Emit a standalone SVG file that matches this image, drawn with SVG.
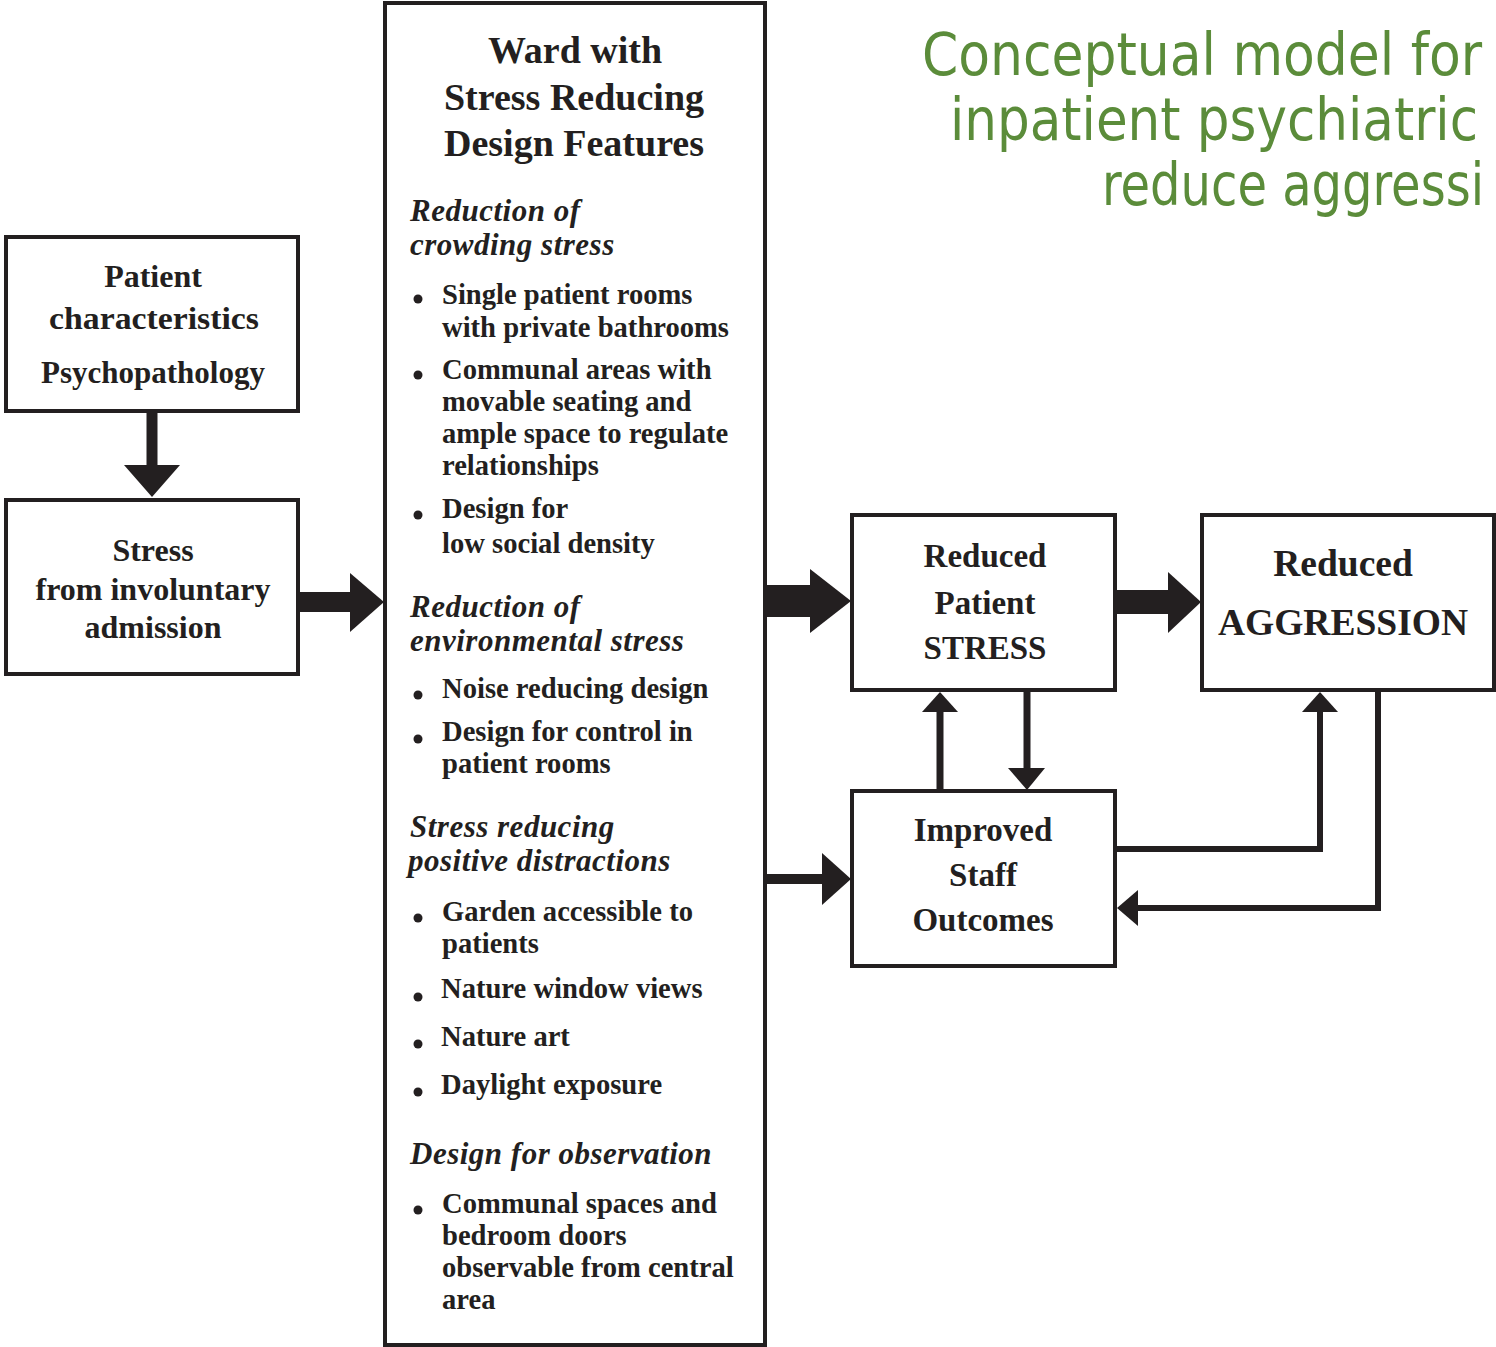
<svg xmlns="http://www.w3.org/2000/svg" width="1496" height="1347" viewBox="0 0 1496 1347">
<style>
.box{fill:#fff;stroke:#231f20;stroke-width:4}
.t{font-family:"Liberation Serif","Times New Roman",serif;font-weight:bold;fill:#231f20}
.c{text-anchor:middle}
.h{font-style:italic;font-size:31px;letter-spacing:0.5px}
.b{font-size:28.6px}
.title{font-family:"DejaVu Sans Condensed","DejaVu Sans",sans-serif;font-size:58px;fill:#5b8c3a}
.ln{stroke:#231f20;fill:none}
.ah{fill:#231f20}
</style>
<rect width="1496" height="1347" fill="#fff"/>
<g id="title">
<text class="title" x="922" y="75" textLength="560" lengthAdjust="spacingAndGlyphs">Conceptual model for</text>
<text class="title" x="950" y="140" textLength="528" lengthAdjust="spacingAndGlyphs">inpatient psychiatric</text>
<text class="title" x="1102" y="205" textLength="382" lengthAdjust="spacingAndGlyphs">reduce aggressi</text>
</g>
<g id="connectors">
<path class="ln" d="M152 411V467" stroke-width="11"/>
<polygon class="ah" points="124,465 180,465 152,497"/>
<path class="ln" d="M298 602H352" stroke-width="20"/>
<polygon class="ah" points="350,573 350,632 384,602"/>
<path class="ln" d="M765 601H812" stroke-width="32"/>
<polygon class="ah" points="810,569 810,633 851,601"/>
<path class="ln" d="M1115 602H1170" stroke-width="24"/>
<polygon class="ah" points="1168,572 1168,633 1201,602"/>
<path class="ln" d="M765 879H824" stroke-width="10"/>
<polygon class="ah" points="822,853 822,905 851,879"/>
<path class="ln" d="M940 791V710" stroke-width="7"/>
<polygon class="ah" points="922,712 958,712 940,692"/>
<path class="ln" d="M1027 690V770" stroke-width="7"/>
<polygon class="ah" points="1008,768 1045,768 1027,790"/>
<path class="ln" d="M1115 849H1320V710" stroke-width="6"/>
<polygon class="ah" points="1302,712 1338,712 1320,692"/>
<path class="ln" d="M1378 690V908H1136" stroke-width="6"/>
<polygon class="ah" points="1138,890 1138,926 1117,908"/>
</g>
<g id="patient">
<rect class="box" x="6" y="237" width="292" height="174"/>
<text class="t c" x="153" y="287" font-size="32">Patient</text>
<text class="t c" x="154" y="329" font-size="32" textLength="210" lengthAdjust="spacingAndGlyphs">characteristics</text>
<text class="t c" x="153" y="383" font-size="31">Psychopathology</text>
</g>
<g id="stress">
<rect class="box" x="6" y="500" width="292" height="174"/>
<text class="t c" x="153" y="561" font-size="32">Stress</text>
<text class="t c" x="153" y="600" font-size="32">from involuntary</text>
<text class="t c" x="153" y="638" font-size="32">admission</text>
</g>
<g id="ward">
<rect class="box" x="385" y="3" width="380" height="1342"/>
<text class="t c" x="575" y="63" font-size="38">Ward with</text>
<text class="t c" x="574" y="110" font-size="38">Stress Reducing</text>
<text class="t c" x="574" y="156" font-size="38">Design Features</text>
<text class="t h" x="410" y="221">Reduction of</text>
<text class="t h" x="410" y="255">crowding stress</text>
<g class="ah">
<circle cx="418" cy="299" r="4.5"/><circle cx="418" cy="375" r="4.5"/><circle cx="418" cy="515" r="4.5"/>
<circle cx="418" cy="695" r="4.5"/><circle cx="418" cy="739" r="4.5"/><circle cx="418" cy="918" r="4.5"/>
<circle cx="418" cy="997" r="4.5"/><circle cx="418" cy="1044" r="4.5"/><circle cx="418" cy="1092" r="4.5"/>
<circle cx="418" cy="1210" r="4.5"/>
</g>
<text class="t b" x="442" y="304">Single patient rooms</text>
<text class="t b" x="442" y="337">with private bathrooms</text>
<text class="t b" x="442" y="379">Communal areas with</text>
<text class="t b" x="442" y="411">movable seating and</text>
<text class="t b" x="442" y="443">ample space to regulate</text>
<text class="t b" x="442" y="475">relationships</text>
<text class="t b" x="442" y="518">Design for</text>
<text class="t b" x="442" y="553">low social density</text>
<text class="t h" x="410" y="617">Reduction of</text>
<text class="t h" x="410" y="651">environmental stress</text>
<text class="t b" x="442" y="698">Noise reducing design</text>
<text class="t b" x="442" y="741">Design for control in</text>
<text class="t b" x="442" y="773">patient rooms</text>
<text class="t h" x="410" y="837">Stress reducing</text>
<text class="t h" x="408" y="871">positive distractions</text>
<text class="t b" x="442" y="921">Garden accessible to</text>
<text class="t b" x="442" y="953">patients</text>
<text class="t b" x="441" y="998">Nature window views</text>
<text class="t b" x="441" y="1046">Nature art</text>
<text class="t b" x="441" y="1094">Daylight exposure</text>
<text class="t h" x="410" y="1164">Design for observation</text>
<text class="t b" x="442" y="1213">Communal spaces and</text>
<text class="t b" x="442" y="1245">bedroom doors</text>
<text class="t b" x="442" y="1277">observable from central</text>
<text class="t b" x="442" y="1309">area</text>
</g>
<g id="reduced-stress">
<rect class="box" x="852" y="515" width="263" height="175"/>
<text class="t c" x="985" y="567" font-size="33">Reduced</text>
<text class="t c" x="985" y="614" font-size="33">Patient</text>
<text class="t c" x="985" y="659" font-size="33">STRESS</text>
</g>
<g id="reduced-aggression">
<rect class="box" x="1202" y="515" width="292" height="175"/>
<text class="t c" x="1343" y="576" font-size="37.5">Reduced</text>
<text class="t c" x="1343" y="635" font-size="37.5">AGGRESSION</text>
</g>
<g id="staff">
<rect class="box" x="852" y="791" width="263" height="175"/>
<text class="t c" x="983" y="841" font-size="33">Improved</text>
<text class="t c" x="983" y="886" font-size="33">Staff</text>
<text class="t c" x="983" y="931" font-size="33">Outcomes</text>
</g>
</svg>
